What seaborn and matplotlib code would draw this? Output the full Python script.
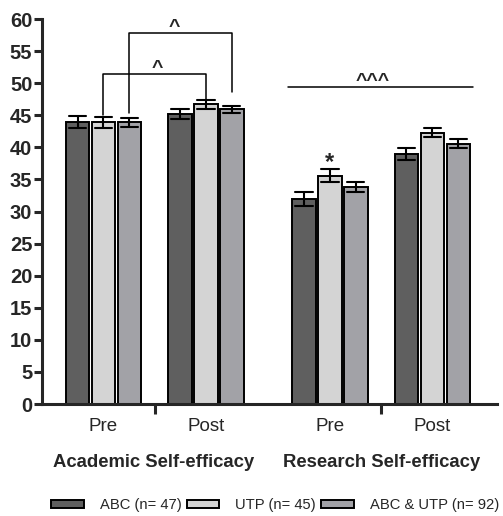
import matplotlib
matplotlib.use("Agg")
import matplotlib.pyplot as plt
import matplotlib.transforms as mtransforms
import seaborn as sns
import pandas as pd

# bar labels
conditions = ["Pre", "Post", "Pre", "Post"]
scales = ["Academic Self-efficacy", "Research Self-efficacy"]
groups = ["ABC (n= 47)", "UTP (n= 45)", "ABC & UTP (n= 92)"]

# means and SEM (Acad pre, Acad post, Res pre, Res post)
abc_mean = [44.0, 45.2, 32.0, 39.0]
abc_sem = [0.95, 0.8, 1.1, 0.95]
utp_mean = [43.9, 46.7, 35.6, 42.3]
utp_sem = [0.85, 0.75, 1.0, 0.75]
both_mean = [43.9, 45.95, 33.8, 40.6]
both_sem = [0.65, 0.55, 0.75, 0.65]

colors = ["#5f5f5f", "#d4d4d4", "#a2a2a7"]

# layout: x centre of each Pre/Post cluster (wider gap between the two scales)
group_x = [0, 1, 2.21, 3.21]
bar_w = 0.76

# seaborn draws the sem as the min..max interval of (mean - sem, mean + sem)
rows = []
for g, means, sems in zip(groups, [abc_mean, utp_mean, both_mean],
                          [abc_sem, utp_sem, both_sem]):
    for x, m, s in zip(group_x, means, sems):
        rows.append({"x": x, "group": g, "score": m - s})
        rows.append({"x": x, "group": g, "score": m + s})
df = pd.DataFrame(rows)

sns.set_style("ticks")
plt.rcParams["font.family"] = ["Liberation Sans", "DejaVu Sans"]

fig = plt.figure(figsize=(5.03, 5.16), dpi=100)
ax = fig.add_axes([0.0835, 0.217, 0.9046, 0.746])

sns.barplot(data=df, x="x", y="score", hue="group", hue_order=groups,
            palette=colors, saturation=1, native_scale=True, width=bar_w,
            gap=0.1, estimator="mean", errorbar=("pi", 100), capsize=0.5,
            err_kws={"color": "black", "linewidth": 1.5},
            edgecolor="black", linewidth=1.4, ax=ax)

ax.set_ylim(0, 60)
ax.set_xlim(-0.6, 3.84)
ax.set_yticks(range(0, 61, 5))
ax.set_yticklabels([str(v) for v in range(0, 61, 5)], fontsize=14.5,
                   fontweight="bold")
ax.set_ylabel("")
ax.set_xlabel("")

# dividing ticks between Pre/Post, labels on minor ticks
ax.set_xticks([0.5, 2.71])
ax.set_xticklabels(["", ""])
ax.set_xticks(group_x, minor=True)
ax.set_xticklabels(conditions, minor=True, fontsize=13.5)
ax.tick_params(axis="x", which="major", length=7, width=2.2, direction="out")
ax.tick_params(axis="x", which="minor", length=0, pad=10)
ax.tick_params(axis="y", length=6, width=2.2, pad=1)

sns.despine(ax=ax)
for s in ["left", "bottom"]:
    ax.spines[s].set_linewidth(2.2)

trans = mtransforms.blended_transform_factory(ax.transData, ax.transAxes)
for xc, name in zip([0.49, 2.71], scales):
    ax.text(xc, -0.151, name, transform=trans, ha="center", va="center",
            fontsize=13.3, fontweight="bold")

# significance markers
off = bar_w / 3
ax.plot([0, 0, 1, 1], [45.0, 51.4, 51.4, 46.9], color="black", lw=1.1,
        clip_on=False)
ax.plot([off, off, 1 + off, 1 + off], [45.3, 57.8, 57.8, 48.6],
        color="black", lw=1.1, clip_on=False)
ax.plot([1.80, 3.605], [49.4, 49.4], color="black", lw=1.1, clip_on=False)
ax.text(0.52, 51.6, "^", ha="center", va="baseline", fontsize=14,
        fontweight="bold")
ax.text(0.69, 58.0, "^", ha="center", va="baseline", fontsize=14,
        fontweight="bold", clip_on=False)
ax.text(2.63, 49.6, "^^^", ha="center", va="baseline", fontsize=14,
        fontweight="bold")
ax.text(group_x[2], 36.6, "*", ha="center", va="baseline", fontsize=17,
        fontweight="bold")

handles, labels = ax.get_legend_handles_labels()
ax.legend(handles, labels, loc="center", bbox_to_anchor=(0.547, 0.021),
          bbox_transform=fig.transFigure, ncol=3, frameon=False,
          handlelength=2.2, handleheight=0.5, handletextpad=1.1,
          columnspacing=0.35, fontsize=10.6)

fig.savefig("out.png", dpi=100)
